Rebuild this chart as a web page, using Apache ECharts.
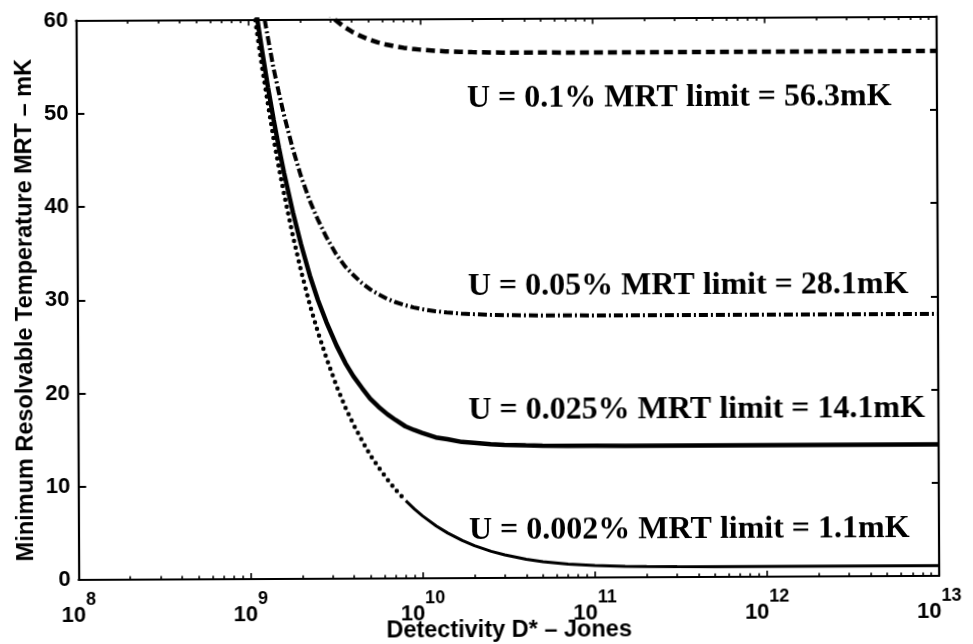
<!DOCTYPE html>
<html>
<head>
<meta charset="utf-8">
<script src="https://cdn.jsdelivr.net/npm/echarts@6/dist/echarts.min.js"></script>
<style>
  html, body { margin: 0; padding: 0; background: #fff; overflow: hidden; }
  /* the printed figure sits very slightly askew on the page */
  #chart { width: 973px; height: 644px; transform: rotate(-0.27deg); transform-origin: 50% 50%; }
</style>
</head>
<body>
<div id="chart"></div>
<script>
// Detectivity D* (Jones) sample points along the x axis
const detectivity = [
  1.0e9, 1.05e9, 1.1e9, 1.15e9, 1.2e9, 1.3e9, 1.4e9, 1.5e9, 1.6e9, 1.8e9,
  2.0e9, 2.25e9, 2.5e9, 2.8e9, 3.2e9, 3.6e9, 4.0e9, 4.5e9, 5e9, 5.6e9,
  6.3e9, 7e9, 8e9, 9e9, 1e10, 1.2e10, 1.4e10, 1.7e10, 2e10, 2.5e10,
  3e10, 4e10, 5e10, 7e10, 1e11, 1.5e11, 2e11, 3e11, 5e11, 1e12, 1e13
];

// Minimum resolvable temperature (mK) for each non-uniformity U
const mrtU0002 = [
  null, 62.9, 60.0, 57.4, 55.0, 50.8, 47.1, 44.0, 41.3, 36.7,
  33.0, 29.3, 26.4, 23.6, 20.6, 18.3, 16.5, 14.7, 13.2, 11.85,
  10.56, 9.49, 8.32, 7.41, 6.69, 5.61, 4.84, 4.03, 3.48, 2.86,
  2.46, 1.98, 1.72, 1.45, 1.28, 1.18, 1.15, 1.12, 1.11, 1.1, 1.1
];
const mrtU0025 = [
  null, null, 61.6, 59.1, 56.8, 52.7, 49.2, 46.2, 43.6, 39.3,
  35.9, 32.5, 29.9, 27.5, 25.0, 23.1, 21.7, 20.4, 19.3, 18.4,
  17.6, 17.0, 16.3, 15.9, 15.6, 15.1, 14.9, 14.6, 14.5, 14.35,
  14.27, 14.2, 14.16, 14.13, 14.12, 14.1, 14.1, 14.1, 14.1, 14.1, 14.1
];
const mrtU005 = [
  null, null, null, null, 61.8, 58.1, 54.8, 52.2, 49.9, 46.2,
  43.3, 40.6, 38.6, 36.7, 34.8, 33.5, 32.6, 31.7, 31.05, 30.5,
  30.0, 29.65, 29.3, 29.05, 28.87, 28.64, 28.5, 28.37, 28.3, 28.22,
  28.19, 28.15, 28.13, 28.12, 28.1, 28.1, 28.1, 28.1, 28.1, 28.1, 28.1
];
const mrtU01 = [
  null, null, null, null, null, null, null, null, null, null,
  null, null, null, 61.05, 59.95, 59.2, 58.67, 58.19, 57.83, 57.52,
  57.27, 57.09, 56.9, 56.78, 56.69, 56.57, 56.5, 56.43, 56.4, 56.36,
  56.34, 56.32, 56.32, 56.31, 56.3, 56.3, 56.3, 56.3, 56.3, 56.3, 56.3
];

// Curve annotations
const limitTexts = [
  'U = 0.1% MRT limit = 56.3mK',
  'U = 0.05% MRT limit = 28.1mK',
  'U = 0.025% MRT limit = 14.1mK',
  'U = 0.002% MRT limit = 1.1mK'
];
const xTitle = 'Detectivity D* \u2013 Jones';
const yTitle = 'Minimum Resolvable Temperature MRT \u2013 mK';

// Axis ticks
const decadeTicks = [1e8, 1e9, 1e10, 1e11, 1e12, 1e13];
const minorTicks = [];
for (let n = 8; n < 13; n++) {
  for (let k = 2; k <= 9; k++) minorTicks.push(k * Math.pow(10, n));
}
const yMin = 0, yMax = 60, yStep = 10;

// Where the dotted curve's marks run together into a continuous line
const dotMergeD = 8e9;

const pairs = vals => detectivity.map((d, i) => [d, vals[i]]);
const dottedAll = pairs(mrtU0002);
const dottedSteep = dottedAll.filter(p => p[0] <= dotMergeD);
const dottedFlat = dottedAll.filter(p => p[0] >= dotMergeD);

const SANS = '"Liberation Sans", Arial, Helvetica, sans-serif';
const SERIF = '"Liberation Serif", "Times New Roman", serif';
const BLACK = '#000';

const xBase = {
  type: 'log', logBase: 10, min: 1e8, max: 1e13, gridIndex: 0,
  splitLine: { show: false }, minorTick: { show: false }
};
const majorTick = { show: true, inside: true, length: 6, customValues: decadeTicks,
                    lineStyle: { color: BLACK, width: 1.6 } };
const minorTick = { show: true, inside: true, length: 3.5, customValues: minorTicks,
                    lineStyle: { color: BLACK, width: 1.6 } };
const frameLine = { show: true, lineStyle: { color: BLACK, width: 2.2 } };

const chart = echarts.init(document.getElementById('chart'), null, { renderer: 'canvas' });

const option = {
  animation: false,
  backgroundColor: '#fff',
  grid: { left: 77.4, right: 35, top: 18.5, bottom: 66, containLabel: false,
          outerBoundsMode: 'none' },
  xAxis: [
    Object.assign({}, xBase, {
      position: 'bottom', axisLine: frameLine, axisTick: majorTick,
      axisLabel: {
        show: true, customValues: decadeTicks, margin: 11,
        formatter: v => '{b|10}{e|' + Math.round(Math.log10(v)) + '}',
        rich: {
          b: { fontFamily: SANS, fontWeight: 'bold', fontSize: 22, color: BLACK,
               lineHeight: 36, verticalAlign: 'bottom' },
          e: { fontFamily: SANS, fontWeight: 'bold', fontSize: 18, color: BLACK,
               lineHeight: 36, verticalAlign: 'top' }
        }
      },
      name: xTitle, nameLocation: 'middle', nameGap: 41, nameMoveOverlap: false,
      nameTextStyle: { fontFamily: SANS, fontWeight: 'bold', fontSize: 23.5, color: BLACK }
    }),
    Object.assign({}, xBase, {
      position: 'bottom', axisLine: { show: false }, axisTick: minorTick, axisLabel: { show: false }
    }),
    Object.assign({}, xBase, {
      position: 'top', axisLine: frameLine, axisTick: majorTick, axisLabel: { show: false }
    }),
    Object.assign({}, xBase, {
      position: 'top', axisLine: { show: false }, axisTick: minorTick, axisLabel: { show: false }
    })
  ],
  yAxis: [
    {
      type: 'value', min: yMin, max: yMax, interval: yStep, position: 'left',
      splitLine: { show: false }, axisLine: frameLine,
      axisTick: { show: true, inside: true, length: 8, lineStyle: { color: BLACK, width: 2 } },
      axisLabel: { fontFamily: SANS, fontWeight: 'bold', fontSize: 22, color: BLACK, margin: 8 }
    },
    {
      type: 'value', min: yMin, max: yMax, interval: yStep, position: 'right',
      splitLine: { show: false }, axisLine: frameLine,
      axisTick: { show: true, inside: true, length: 7, lineStyle: { color: BLACK, width: 2 } },
      axisLabel: { show: false }
    }
  ],
  series: [
    {
      name: 'U = 0.002%', type: 'line', data: dottedSteep, showSymbol: false, clip: true,
      lineStyle: { color: BLACK, width: 4.5, type: [0, 7], cap: 'round' }
    },
    {
      name: 'U = 0.002% (merged)', type: 'line', data: dottedFlat, showSymbol: false, clip: true,
      lineStyle: { color: BLACK, width: 3, type: 'solid' }
    },
    {
      name: 'U = 0.025%', type: 'line', data: pairs(mrtU0025), showSymbol: false, clip: true,
      lineStyle: { color: BLACK, width: 4.5, type: 'solid' }
    },
    {
      name: 'U = 0.05%', type: 'line', data: pairs(mrtU005), showSymbol: false, clip: true,
      lineStyle: { color: BLACK, width: 4, type: [9, 3, 2, 3] }
    },
    {
      name: 'U = 0.1%', type: 'line', data: pairs(mrtU01), showSymbol: false, clip: true,
      lineStyle: { color: BLACK, width: 4.5, type: [9, 5] }
    }
  ],
  graphic: limitTexts.map((t, i) => ({
    type: 'text',
    x: 468,
    y: [99, 287, 411, 531][i],
    style: {
      text: t, fill: BLACK, align: 'left', verticalAlign: 'middle',
      fontFamily: SERIF, fontWeight: 'bold', fontSize: 32
    }
  })).concat([{
    type: 'text',
    x: 26, y: 308, rotation: Math.PI / 2,
    style: {
      text: yTitle, fill: BLACK, align: 'center', verticalAlign: 'middle',
      fontFamily: SANS, fontWeight: 'bold', fontSize: 23.5
    }
  }])
};

chart.setOption(option);
</script>
</body>
</html>
